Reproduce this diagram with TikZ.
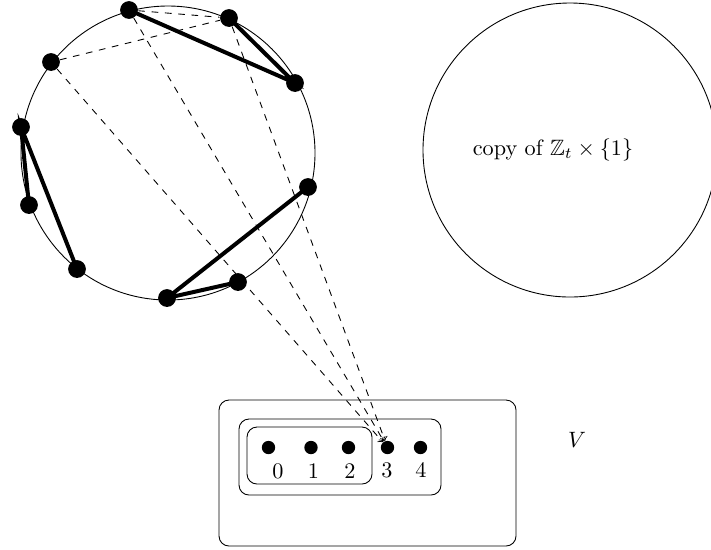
\documentclass[tikz,border=0pt]{standalone}
\usepackage{amssymb}
\usetikzlibrary{backgrounds}
\begin{document}
\begin{tikzpicture}[x=0.45pt,y=-0.45pt,
  dot/.style={circle,fill=black,inner sep=0pt,minimum size=8pt},
  vdot/.style={circle,fill=black,inner sep=0pt,minimum size=6pt},
  heavy/.style={line width=1.8pt},
  guide/.style={dashed},
  frame/.style={draw,rounded corners=4.5pt}]
\useasboundingbox (0,0) rectangle (711,549);

% the two cycles
\draw (168,153) circle[radius=147];
\draw (570,150) circle[radius=147];
\node at (553,150) {copy of $\mathbb{Z}_t\times\{1\}$};

% vertices on the first cycle
\node[dot] (a) at (129,10) {};
\node[dot] (b) at (229,18) {};
\node[dot] (c) at (295,83) {};
\node[dot] (d) at (51,62) {};
\node[dot] (e) at (21,127) {};
\node[dot] (f) at (29,205) {};
\node[dot] (g) at (77,269) {};
\node[dot] (h) at (308,187) {};
\node[dot] (i) at (238,282) {};
\node[dot] (j) at (167,298) {};

% the vertex set V
\draw[frame] (219,400) rectangle (516,546);
\draw[frame] (239,419) rectangle (441,495);
\draw[frame] (247,427) rectangle (372,484);
\node[vdot] (v0) at (268.5,447.5) {};
\node[vdot] (v1) at (311,447.5) {};
\node[vdot] (v2) at (348.5,447.5) {};
\node[vdot] (v3) at (387.5,447.5) {};
\node[vdot] (v4) at (420.5,447.5) {};
\node (l0) at (278,471) {0};
\node (l1) at (313.5,471) {1};
\node (l2) at (350,471) {2};
\node (l3) at (387,470) {3};
\node (l4) at (421,470) {4};
\node (vlab) at (577,440) {$V$};

\begin{scope}[on background layer]
  \draw[heavy] (a.center) -- (c.center) -- (b.center);
  \draw[heavy] (f.center) -- (e.center) -- (g.center);
  \draw[heavy] (h.center) -- (j.center) -- (i.center);
  \draw[guide] (a) -- (b);
  \draw[guide] (d) -- (b);
  \draw[guide,->] (d) -- (v3);
  \draw[guide,->] (a) -- (v3);
  \draw[guide,->] (b) -- (v3);
\end{scope}
\end{tikzpicture}
\end{document}
